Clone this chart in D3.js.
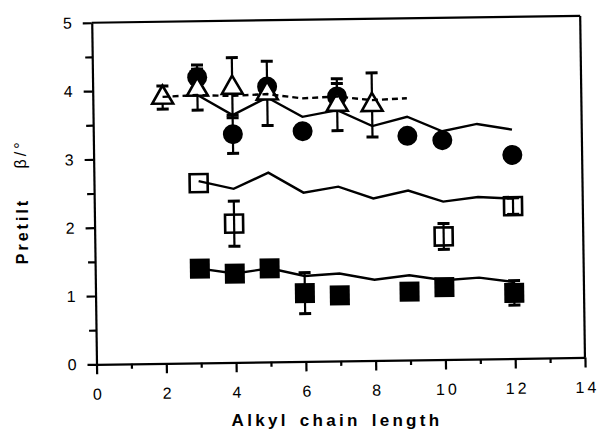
<!DOCTYPE html>
<html>
<head>
<meta charset="utf-8">
<script src="https://cdn.jsdelivr.net/npm/d3@7"></script>
<style>
body{margin:0;background:#fff;}
text{font-family:"Liberation Sans",Arial,sans-serif;}
</style>
</head>
<body>
<div id="plot"></div>
<script>
// chain lengths and values
var lineX = [3,4,5,6,7,8,9,10,11,12];
var upperLine = [3.92,3.62,3.87,3.58,3.67,3.43,3.56,3.34,3.44,3.35];
var middleLine = [2.66,2.54,2.77,2.47,2.55,2.37,2.48,2.31,2.37,2.34];
var lowerLine = [1.38,1.30,1.37,1.25,1.28,1.18,1.24,1.16,1.19,1.12];

var dashX = [2,3,4,5,6,7,8,9];
var dashLine = [3.90,3.92,3.90,3.92,3.85,3.87,3.81,3.83];

var circleX = [3,4,5,6,7,9,10,12];
var circleY = [4.18,3.34,4.03,3.37,3.87,3.28,3.21,2.98];
var circleErr = [0.18,0.28,0,0,0.19,0,0,0];

var triX = [2,3,4,5,7,8];
var triY = [3.89,4.00,4.02,3.93,3.75,3.74];
var triErr = [0.17,0.30,0.44,0.47,0.38,0.47];

var openSqX = [3,4,10,12];
var openSqY = [2.63,2.03,1.80,2.23];
var openSqErr = [0,0.33,0.19,0.12];

var fillSqX = [3,4,5,6,7,9,10,12];
var fillSqY = [1.38,1.30,1.37,1.00,0.96,1.00,1.06,0.96];
var fillSqErr = [0,0,0.05,0.30,0,0,0,0.18];

var xTicks = [0,2,4,6,8,10,12,14];
var yTicks = [0,1,2,3,4,5];

var margin = {t:22.7,l:96.5};
var width = 488.5, height = 341.6;

var svg = d3.select('#plot')
	.append('svg')
	.attr('width',598)
	.attr('height',434);

// the scanned figure is a little rotated
var plot = svg.append('g')
	.attr('transform','rotate(-0.8,'+margin.l+','+(margin.t+height)+') translate('+margin.l+','+margin.t+')');

var x = d3.scaleLinear().domain([0,14]).range([0,width]);
var y = d3.scaleLinear().domain([0,5]).range([height,0]);

// frame top and right
plot.append('line').attr('x1',0).attr('x2',width).attr('y1',0).attr('y2',0)
	.style('stroke','#000').style('stroke-width',2.2);
plot.append('line').attr('x1',width).attr('x2',width).attr('y1',0).attr('y2',height)
	.style('stroke','#000').style('stroke-width',2.2);

// minor ticks
plot.append('g')
	.attr('transform','translate(0,'+height+')')
	.call(d3.axisBottom(x).tickValues([1,3,5,7,9,11,13]).tickSize(5).tickFormat(''))
	.call(function(g){g.select('.domain').remove();});
plot.append('g')
	.call(d3.axisLeft(y).tickValues([0.5,1.5,2.5,3.5,4.5]).tickSize(7).tickFormat(''))
	.call(function(g){g.select('.domain').remove();});

var xAxis = plot.append('g')
	.attr('transform','translate(0,'+height+')')
	.call(d3.axisBottom(x).tickValues(xTicks).tickSize(10).tickSizeOuter(0).tickPadding(14).tickFormat(d3.format('d')));
var yAxis = plot.append('g')
	.call(d3.axisLeft(y).tickValues(yTicks).tickSize(9).tickSizeOuter(0).tickPadding(11).tickFormat(d3.format('d')));

plot.selectAll('.tick line, .domain').style('stroke','#000').style('stroke-width',2.2);
xAxis.selectAll('text').style('font-size','16px').style('letter-spacing','3px').attr('dx','1.5px').style('fill','#000');
yAxis.selectAll('text').style('font-size','16px').style('fill','#000');

// lines
function drawLine(xs, ys, dashed){
	var line = d3.line()
		.x(function(d,i){return x(xs[i]);})
		.y(function(d){return y(d);});
	plot.append('path')
		.datum(ys)
		.attr('d',line)
		.style('fill','none')
		.style('stroke','#000')
		.style('stroke-width',2.4)
		.style('stroke-dasharray',dashed ? '6,4' : null);
}
drawLine(lineX, upperLine, false);
drawLine(lineX, middleLine, false);
drawLine(lineX, lowerLine, false);

// error bars
function drawErr(xs, ys, errs){
	xs.forEach(function(xv,i){
		if (errs[i] == 0) return;
		var g = plot.append('g').style('stroke','#000').style('stroke-width',2.2);
		g.append('line').attr('x1',x(xv)).attr('x2',x(xv))
			.attr('y1',y(ys[i]-errs[i])).attr('y2',y(ys[i]+errs[i]));
		[ys[i]-errs[i], ys[i]+errs[i]].forEach(function(v){
			g.append('line').attr('x1',x(xv)-6).attr('x2',x(xv)+6)
				.attr('y1',y(v)).attr('y2',y(v)).style('stroke-width',3);
		});
	});
}
drawErr(circleX, circleY, circleErr);
drawErr(openSqX, openSqY, openSqErr);
drawErr(fillSqX, fillSqY, fillSqErr);
drawErr(triX, triY, triErr);

circleX.forEach(function(xv,i){
	plot.append('circle')
		.attr('cx',x(xv))
		.attr('cy',y(circleY[i]))
		.attr('r',10)
		.style('fill','#000');
});

fillSqX.forEach(function(xv,i){
	plot.append('rect')
		.attr('x',x(xv)-10)
		.attr('y',y(fillSqY[i])-10)
		.attr('width',20)
		.attr('height',20)
		.style('fill','#000');
});

openSqX.forEach(function(xv,i){
	plot.append('rect')
		.attr('x',x(xv)-9)
		.attr('y',y(openSqY[i])-9)
		.attr('width',18)
		.attr('height',18)
		.style('fill','none')
		.style('stroke','#000')
		.style('stroke-width',2.6);
});

var tri = d3.symbol().type(d3.symbolTriangle).size(190);
triX.forEach(function(xv,i){
	plot.append('path')
		.attr('d',tri())
		.attr('transform','translate('+x(xv)+','+y(triY[i])+')')
		.style('fill','#fff')
		.style('stroke','#000')
		.style('stroke-width',2.6);
});

drawLine(dashX, dashLine, true);

// axis titles
svg.append('text')
	.attr('x',337)
	.attr('y',426)
	.attr('text-anchor','middle')
	.style('font-size','17px')
	.style('font-weight','bold')
	.style('letter-spacing','3.3px')
	.style('word-spacing','3px')
	.text('Alkyl chain length');

svg.append('text')
	.attr('transform','translate(28,231) rotate(-90)')
	.attr('text-anchor','middle')
	.style('font-size','16px')
	.style('font-weight','bold')
	.style('letter-spacing','3px')
	.text('Pretilt');

svg.append('text')
	.attr('transform','translate(26,154) rotate(-90)')
	.attr('text-anchor','middle')
	.style('font-size','16px')
	.style('letter-spacing','3px')
	.text('β/°');
</script>
</body>
</html>
